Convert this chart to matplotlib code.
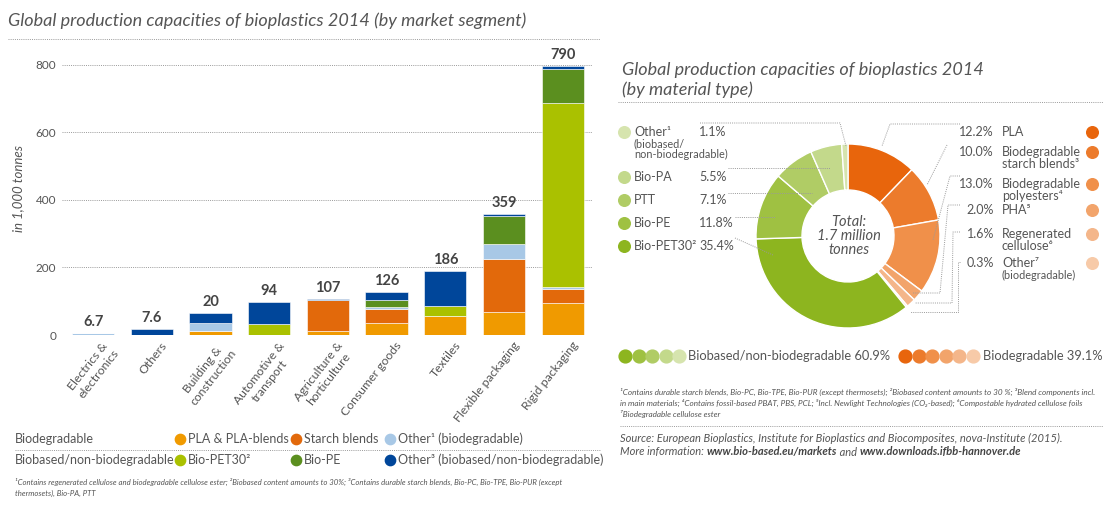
import matplotlib
matplotlib.use('Agg')
import matplotlib.pyplot as plt
import numpy as np

plt.rcParams['font.family'] = ['Lato', 'DejaVu Sans']

W, H = 1103, 507
GREY = '#555555'
DOT = '#9a9a9a'

# market segments, in 1,000 tonnes
segments = ['Electrics &\nelectronics', 'Others', 'Building &\nconstruction',
            'Automotive &\ntransport', 'Agriculture &\nhorticulture', 'Consumer goods',
            'Textiles', 'Flexible packaging', 'Rigid packaging']
totals = ['6.7', '7.6', '20', '94', '107', '126', '186', '359', '790']
pla = [0, 0, 13, 0, 12, 35, 57, 69, 96]
starch = [0, 0, 0, 0, 92, 41, 0, 155, 40]
other_bio = [5, 0, 23, 0, 0, 8, 0, 45, 7]
bio_pet30 = [0, 0, 0, 32, 0, 0, 29, 0, 545]
bio_pe = [0, 0, 0, 0, 0, 20, 0, 83, 99]
other_nonbio = [2, 17, 30, 65, 3, 23, 102, 5, 8]
y_ticks = [0, 200, 400, 600, 800]

bar_series = [pla, starch, other_bio, bio_pet30, bio_pe, other_nonbio]
bar_colors = ['#f09a00', '#e2690b', '#a8c8e6', '#aac100', '#5b8f1f', '#00469a']

# material types, share in %
material_names = ['PLA', 'Biodegradable\nstarch blends³', 'Biodegradable\npolyesters⁴', 'PHA⁵',
                  'Regenerated\ncellulose⁶', 'Other⁷', 'Bio-PET30²', 'Bio-PE', 'PTT',
                  'Bio-PA', 'Other¹']
material_notes = ['', '', '', '', '', '(biodegradable)', '', '', '', '',
                  '(biobased/\nnon-biodegradable)']
material_shares = [12.2, 10.0, 13.0, 2.0, 1.6, 0.3, 35.4, 11.8, 7.1, 5.5, 1.1]
material_colors = ['#e8650c', '#ec7b2c', '#f0904a', '#f2a46b', '#f4b68a', '#f7caa8',
                   '#8db51f', '#9fc142', '#b0cc65', '#c3d98b', '#d6e4ae']

fig = plt.figure(figsize=(W / 100, H / 100), dpi=100)

# ---- stacked bar chart ----
ax = fig.add_axes([62 / W, 1 - 335 / H, (592 - 62) / W, (335 - 58) / H])
x = np.arange(len(segments))
bottom = np.zeros(len(segments))
for vals, col in zip(bar_series, bar_colors):
    ax.bar(x, vals, 0.72, bottom=bottom, color=col, edgecolor='white', linewidth=0.4)
    bottom += np.array(vals)
for xi, top, lab in zip(x, bottom, totals):
    ax.text(xi, top + 12, lab, ha='center', va='bottom', fontsize=10.5,
            fontweight='bold', color='#444444')
ax.set_xlim(-0.53, 8.5)
ax.set_ylim(0, 820)
ax.set_yticks(y_ticks)
ax.set_yticklabels([str(t) for t in y_ticks], fontsize=8.5, color=GREY)
ax.tick_params(axis='y', length=0, pad=4)
ax.tick_params(axis='x', length=0)
ax.set_xticks(x + 0.15)
ax.set_xticklabels(segments, rotation=52, ha='right', va='top', rotation_mode='anchor',
                   fontsize=8.8, color=GREY, multialignment='center')
for t in y_ticks:
    ax.axhline(t, color=DOT, linestyle=(0, (1, 1.2)), linewidth=0.7, zorder=0)
for s in ax.spines.values():
    s.set_visible(False)

# ---- donut chart ----
ax2 = fig.add_axes([756 / W, 1 - 328 / H, 184 / W, 184 / H])
ax2.pie(material_shares, colors=material_colors, startangle=90, counterclock=False,
        wedgeprops=dict(width=0.5, edgecolor='white', linewidth=1))
ax2.set_xlim(-1, 1)
ax2.set_ylim(-1, 1)
ax2.set_aspect('equal')

# ---- overlay for texts ----
ov = fig.add_axes([0, 0, 1, 1])
ov.set_xlim(0, W)
ov.set_ylim(H, 0)
ov.axis('off')
ov.patch.set_alpha(0)

dotkw = dict(color=DOT, linestyle=(0, (1, 1.2)), linewidth=0.7)

ov.text(8, 21, 'Global production capacities of bioplastics 2014 (by market segment)',
        fontsize=13, style='italic', color=GREY, va='center')
ov.plot([8, 600], [39, 39], **dotkw)
ov.text(18, 188, 'in 1,000 tonnes', rotation=90, style='italic', fontsize=9.5,
        color=GREY, ha='center', va='center')

# bar legend
ov.text(15, 439, 'Biodegradable', fontsize=9, color=GREY, va='center')
ov.text(15, 460, 'Biobased/non-biodegradable', fontsize=9, color=GREY, va='center')
ov.plot([15, 600], [450, 450], **dotkw)
leg = [(180, 439, 'PLA & PLA-blends', 0), (296, 439, 'Starch blends', 1),
       (390, 439, 'Other¹ (biodegradable)', 2), (180, 460, 'Bio-PET30²', 3),
       (296, 460, 'Bio-PE', 4), (390, 460, 'Other³ (biobased/non-biodegradable)', 5)]
for lx, ly, lt, ci in leg:
    ov.scatter([lx], [ly], s=55, color=bar_colors[ci], zorder=3)
    ov.text(lx + 8, ly, lt, fontsize=9, color=GREY, va='center')
ov.text(15, 482, '¹Contains regenerated cellulose and biodegradable cellulose ester; '
        '²Biobased content amounts to 30%; ³Contains durable starch blends, Bio-PC, Bio-TPE, '
        'Bio-PUR (except', fontsize=5.6, style='italic', color=GREY, va='center')
ov.text(15, 493, 'thermosets), Bio-PA, PTT', fontsize=5.6, style='italic', color=GREY,
        va='center')

# donut title
ov.text(622, 70, 'Global production capacities of bioplastics 2014',
        fontsize=13, style='italic', color=GREY, va='center')
ov.text(622, 90, '(by material type)', fontsize=13, style='italic', color=GREY, va='center')
ov.plot([618, 1103], [102, 102], **dotkw)
ov.text(849, 236, 'Total:\n1.7 million\ntonnes', style='italic', fontsize=10.5,
        color=GREY, ha='center', va='center', linespacing=1.0)

# left-hand labels (biobased)
left_rows = [(10, 132), (9, 177), (8, 200), (7, 223), (6, 246)]
for idx, ly in left_rows:
    ov.scatter([624], [ly], s=70, color=material_colors[idx], zorder=3)
    ov.text(634, ly, material_names[idx], fontsize=9, color=GREY, va='center')
    if material_notes[idx]:
        ov.text(634, ly + 6, material_notes[idx], fontsize=7.8, color=GREY, va='top',
                linespacing=1.05)
    ov.text(699, ly, f'{material_shares[idx]:.1f}%', fontsize=9, color=GREY, va='center')
# right-hand labels (biodegradable)
right_rows = [(0, 132), (1, 152), (2, 184), (3, 210), (4, 234), (5, 263)]
for idx, ly in right_rows:
    ov.scatter([1092], [ly], s=70, color=material_colors[idx], zorder=3)
    ov.text(994, ly, f'{material_shares[idx]:.1f}%', fontsize=9, color=GREY,
            va='center', ha='right')
    ov.text(1002, ly - 6, material_names[idx], fontsize=9, color=GREY, va='top',
            linespacing=0.95)
    if material_notes[idx]:
        ov.text(1002, ly + 7, material_notes[idx], fontsize=7.8, color=GREY, va='top')

# leader lines
leaders = [
    [(700, 123), (840, 123), (846, 146)],
    [(728, 168), (830, 168)],
    [(728, 193), (812, 193)],
    [(735, 217), (775, 217)],
    [(735, 238), (773, 255)],
    [(960, 124), (890, 124), (882, 146)],
    [(947, 145), (927, 185)],
    [(960, 176), (950, 176), (933, 240)],
    [(960, 205), (948, 205), (940, 293), (913, 293)],
    [(960, 232), (953, 232), (952, 303), (915, 303)],
    [(960, 262), (958, 262), (958, 312), (910, 312)],
]
for pts in leaders:
    xs, ys = zip(*pts)
    ov.plot(xs, ys, **dotkw)

# donut legend
for i, idx in enumerate([6, 7, 8, 9, 10]):
    ov.scatter([625 + i * 13.5], [356], s=85, color=material_colors[idx], zorder=3)
ov.text(688, 356, 'Biobased/non-biodegradable 60.9%', fontsize=9.3, color=GREY, va='center')
for i, idx in enumerate(range(6)):
    ov.scatter([905 + i * 13.5], [356], s=85, color=material_colors[idx], zorder=3)
ov.text(983, 356, 'Biodegradable 39.1%', fontsize=9.3, color=GREY, va='center')

notes = ['¹Contains durable starch blends, Bio-PC, Bio-TPE, Bio-PUR (except thermosets); '
         '²Biobased content amounts to 30 %; ³Blend components incl.',
         'in main materials; ⁴Contains fossil-based PBAT, PBS, PCL; ⁵Incl. Newlight Technologies '
         '(CO₂-based); ⁶Compostable hydrated cellulose foils',
         '⁷Biodegradable cellulose ester']
for i, n in enumerate(notes):
    ov.text(620, 392 + i * 11, n, fontsize=5.9, style='italic', color=GREY, va='center')
ov.plot([620, 1103], [426, 426], **dotkw)
ov.text(620, 438, 'Source: European Bioplastics, Institute for Bioplastics and Biocomposites, '
        'nova-Institute (2015).', fontsize=8, style='italic', color=GREY, va='center')
t1 = ov.text(620, 452, 'More information: ', fontsize=8, style='italic', color=GREY,
             va='center')
t2 = ov.annotate('www.bio-based.eu/markets', xycoords=t1, xy=(1, 0.5), va='center',
                 fontsize=8, style='italic', fontweight='bold', color='#444444')
t3 = ov.annotate(' and ', xycoords=t2, xy=(1, 0.5), va='center', fontsize=8,
                 style='italic', color=GREY)
ov.annotate('www.downloads.ifbb-hannover.de', xycoords=t3, xy=(1, 0.5), va='center',
            fontsize=8, style='italic', fontweight='bold', color='#444444')

fig.savefig('out.png', dpi=100)
